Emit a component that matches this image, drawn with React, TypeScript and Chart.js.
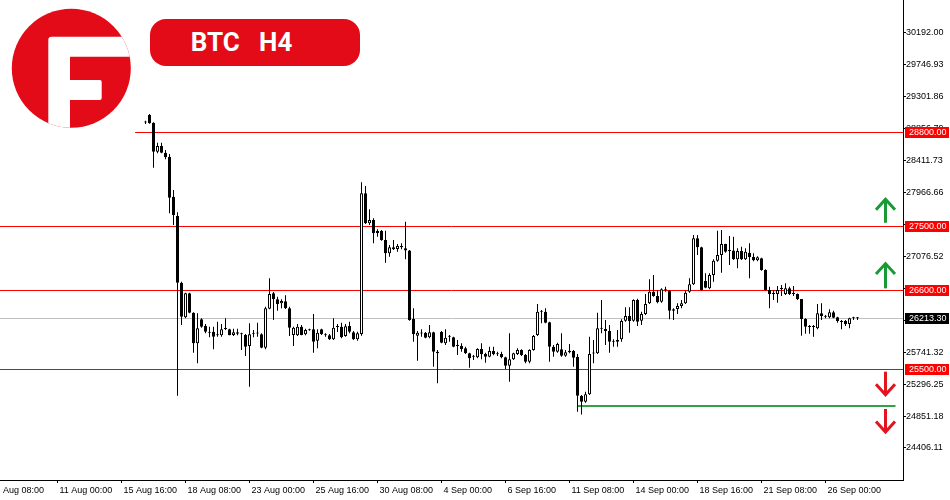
import React, { useEffect, useRef } from 'react';
import { Chart, registerables } from 'chart.js';

Chart.register(...registerables);

// ---- data (BTC H4 candles, first candle = bar 22 after 11 Aug 00:00, weekends excluded) ----
const FIRST_BAR = 22;

const OPEN = [
  28940, 29040, 28933, 28530, 28609, 28516, 28460, 27903, 27635, 26707,
  26225, 26559, 26289, 25863, 26197, 26104, 26025, 26025, 25975, 25975,
  26062, 26058, 25978, 26016, 26002, 25979, 25826, 25997, 26002, 25988,
  25802, 26345, 26559, 26475, 26420, 26448, 26350, 25979, 25975, 26094,
  25988, 26048, 26058, 25899, 26058, 25975, 25975, 25919, 26090, 26094,
  25965, 26104, 26016, 25919, 25993, 27951, 27533, 27579, 27426, 27426,
  27301, 27116, 27199, 27176, 27199, 27185, 27153, 26201, 25969, 26000,
  26011, 25947, 26016, 25746, 26020, 25863, 25955, 25947, 25826, 25826,
  25794, 25724, 25677, 25668, 25784, 25714, 25677, 25756, 25714, 25714,
  25668, 25552, 25640, 25714, 25770, 25700, 25607, 25770, 25979, 26303,
  26303, 26155, 25816, 25746, 25779, 25690, 25760, 25756, 25677, 25134,
  25050, 25153, 25720, 25724, 26072, 26062, 26034, 25886, 25886, 25919,
  26178, 26243, 26178, 26466, 26178, 26271, 26419, 26581, 26521, 26443,
  26614, 26595, 26336, 26340, 26382, 26420, 26581, 26684, 27324, 27199,
  26730, 26628, 26814, 27013, 27092, 27245, 27148, 27153, 27032, 27148,
  27032, 27125, 27064, 27018, 27046, 26883, 26605, 26549, 26549, 26619,
  26549, 26628, 26549, 26549, 26480, 26201, 26094, 26090, 26072, 26280,
  26234, 26225, 26294, 26225, 26164, 26173, 26132, 26211, 26214,
];
const HIGH = [
  28960, 29054, 28940, 28655, 28655, 28553, 28498, 27997, 27686, 26720,
  26568, 26568, 26295, 26281, 26211, 26132, 26094, 26094, 26164, 26132,
  26211, 26066, 26066, 26066, 26011, 25993, 26141, 26048, 26150, 26002,
  26373, 26768, 26577, 26512, 26475, 26531, 26373, 26094, 26132, 26118,
  26066, 26066, 26271, 26058, 26066, 26002, 25993, 26211, 26132, 26150,
  26132, 26164, 26034, 26025, 28104, 28052, 27728, 27602, 27449, 27440,
  27431, 27231, 27301, 27245, 27255, 27556, 27162, 26350, 26034, 26058,
  26020, 26118, 26025, 25770, 26034, 26058, 25979, 25955, 25909, 25863,
  25816, 25732, 25700, 25794, 25863, 25732, 25816, 25816, 25746, 25746,
  25677, 26002, 25732, 25794, 25779, 25714, 25779, 25979, 26410, 26326,
  26350, 26164, 25840, 25872, 26002, 25770, 25853, 25770, 25714, 25144,
  25190, 25955, 25909, 26289, 26466, 26187, 26118, 25919, 26048, 26197,
  26364, 26364, 26475, 26484, 26303, 26549, 26754, 26814, 26605, 26628,
  26651, 26605, 26350, 26420, 26466, 26595, 26768, 27370, 27370, 27208,
  26837, 26837, 27032, 27431, 27440, 27250, 27356, 27347, 27185, 27208,
  27185, 27255, 27116, 27074, 27055, 26893, 26651, 26605, 26660, 26674,
  26698, 26651, 26660, 26558, 26480, 26211, 26118, 26118, 26410, 26420,
  26257, 26336, 26317, 26234, 26187, 26187, 26220, 26234, 26229,
];
const LOW = [
  28915, 28920, 28307, 28507, 28507, 28424, 27672, 27510, 25134, 26118,
  26211, 26280, 25732, 25585, 26080, 26002, 25947, 25780, 25955, 25955,
  26048, 25975, 25965, 25975, 25770, 25687, 25259, 25947, 25955, 25794,
  25780, 26336, 26187, 26317, 26350, 26341, 25965, 25826, 25965, 25975,
  25975, 26039, 25732, 25794, 25979, 25955, 25909, 25909, 26020, 25933,
  25955, 26002, 25909, 25899, 25969, 27524, 27510, 27255, 27347, 27291,
  26985, 27069, 27162, 27139, 27171, 27032, 26178, 25886, 25621, 25955,
  25933, 25933, 25537, 25306, 25863, 25840, 25886, 25807, 25700, 25746,
  25714, 25524, 25631, 25654, 25640, 25593, 25668, 25696, 25687, 25654,
  25505, 25329, 25631, 25700, 25687, 25584, 25584, 25760, 25965, 26141,
  26141, 25607, 25677, 25732, 25677, 25677, 25724, 25537, 24911, 24874,
  25036, 25144, 25584, 25714, 26002, 25840, 25732, 25816, 25816, 25886,
  26164, 26011, 26164, 26104, 26118, 26257, 26410, 26512, 26420, 26429,
  26581, 26197, 26187, 26271, 26350, 26410, 26568, 26674, 27092, 26595,
  26628, 26614, 26720, 26999, 26846, 27125, 26953, 27022, 26907, 27022,
  27022, 26767, 27004, 27004, 26874, 26595, 26350, 26466, 26429, 26521,
  26535, 26535, 26521, 26466, 25969, 25997, 25997, 25955, 26058, 26187,
  26211, 26211, 26211, 26150, 26058, 26104, 26072, 26187, 26187,
];
const CLOSE = [
  28935, 28925, 28530, 28609, 28516, 28452, 27889, 27649, 26707, 26233,
  26559, 26289, 25863, 26072, 26094, 26025, 26011, 25955, 25980, 26058,
  26066, 25975, 26016, 25997, 25988, 25816, 25988, 26002, 26000, 25802,
  26350, 26549, 26475, 26410, 26452, 26350, 26080, 26080, 26094, 25979,
  26048, 26045, 25886, 26011, 25993, 25978, 25919, 26080, 26094, 25947,
  26100, 26025, 25919, 26002, 27951, 27533, 27579, 27394, 27394, 27301,
  27116, 27199, 27171, 27217, 27217, 27153, 26187, 25988, 26011, 26004,
  25941, 26016, 25746, 25723, 25872, 25942, 25958, 25816, 25830, 25784,
  25724, 25654, 25680, 25784, 25710, 25677, 25756, 25710, 25712, 25668,
  25552, 25640, 25724, 25770, 25700, 25607, 25770, 25965, 26303, 26306,
  26150, 25816, 25746, 25853, 25690, 25737, 25737, 25663, 25134, 25050,
  25153, 25714, 25724, 26072, 26066, 26034, 25886, 25890, 25909, 26173,
  26243, 26173, 26466, 26164, 26271, 26410, 26581, 26521, 26433, 26614,
  26600, 26317, 26317, 26382, 26420, 26568, 26684, 27324, 27199, 26605,
  26637, 26814, 27013, 27092, 27245, 27139, 27153, 27032, 27148, 27032,
  27139, 27064, 27018, 27060, 26883, 26605, 26549, 26552, 26605, 26622,
  26628, 26549, 26552, 26480, 26201, 26094, 26090, 26094, 26280, 26243,
  26238, 26294, 26220, 26173, 26160, 26127, 26211, 26214, 26213.3,
];

const Y_TICKS = [
  24406.11, 24851.18, 25296.25, 25741.32, 26186.38, 26631.45, 27076.52,
  27521.59, 27966.66, 28411.73, 28856.79, 29301.86, 29746.93, 30192.0,
];
const X_TICK_BARS = [-16, 0, 16, 32, 48, 64, 80, 96, 112, 128, 144, 160, 176, 192];
const X_TICK_LABELS = [
  '8 Aug 08:00', '11 Aug 00:00', '15 Aug 16:00', '18 Aug 08:00', '23 Aug 00:00',
  '25 Aug 16:00', '30 Aug 08:00', '4 Sep 00:00', '6 Sep 16:00', '11 Sep 08:00',
  '14 Sep 00:00', '18 Sep 16:00', '21 Sep 08:00', '26 Sep 00:00',
];

const X_MIN = -14.375;
const X_MAX = 211.375;
const Y_MIN = 23960.76;
const Y_MAX = 30640.9;

const RED_LEVELS = [28800, 27500, 26600, 25500];
const RED_LEVEL_FROM_BAR = [19.4, X_MIN, X_MIN, X_MIN];
const CURRENT_PRICE = 26213.3;
const GREEN_LEVEL = 24995;
const GREEN_FROM_BAR = 130;
const GREEN_TO_BAR = 209.5;
const ARROW_BAR = 207;
const UP_ARROW_TIPS = [27895, 27000];
const UP_ARROW_TAILS = [27541, 26628];
const DOWN_ARROW_TIPS = [25120, 24601];
const DOWN_ARROW_TAILS = [25468, 24949];

const RED = '#ff0000';
const BRAND_RED = '#e30b17';
const GREEN_LINE = '#34a04a';
const GREEN_ARROW = '#1a9a35';
const RED_ARROW = '#e3141e';
const FONT = '9px "Liberation Sans", Arial, sans-serif';

const levelsPlugin = {
  id: 'levels',
  beforeDatasetsDraw(chart: any) {
    const { ctx, chartArea } = chart;
    const xs = chart.scales.x;
    const ys = chart.scales.y;
    const { left, right, top, bottom } = chartArea;
    ctx.save();
    ctx.beginPath();
    ctx.rect(left, top, right - left, bottom - top);
    ctx.clip();
    ctx.lineWidth = 1;
    // current price line
    const yc = Math.round(ys.getPixelForValue(CURRENT_PRICE)) + 0.5;
    ctx.strokeStyle = '#c0c0c0';
    ctx.beginPath();
    ctx.moveTo(left, yc);
    ctx.lineTo(right, yc);
    ctx.stroke();
    // red levels
    ctx.strokeStyle = RED;
    RED_LEVELS.forEach((lv, i) => {
      const y = Math.round(ys.getPixelForValue(lv)) + 0.5;
      const x0 = Math.max(left, xs.getPixelForValue(RED_LEVEL_FROM_BAR[i]));
      ctx.beginPath();
      ctx.moveTo(x0, y);
      ctx.lineTo(right, y);
      ctx.stroke();
    });
    // green support line
    const yg = Math.round(ys.getPixelForValue(GREEN_LEVEL));
    ctx.strokeStyle = GREEN_LINE;
    ctx.lineWidth = 2;
    ctx.beginPath();
    ctx.moveTo(xs.getPixelForValue(GREEN_FROM_BAR), yg);
    ctx.lineTo(xs.getPixelForValue(GREEN_TO_BAR), yg);
    ctx.stroke();
    ctx.restore();
  },
  afterDraw(chart: any) {
    const { ctx, chartArea } = chart;
    const xs = chart.scales.x;
    const ys = chart.scales.y;
    ctx.save();
    // price boxes
    ctx.font = FONT;
    ctx.textBaseline = 'middle';
    ctx.textAlign = 'left';
    const box = (value: number, bg: string, text: string) => {
      const y = Math.round(ys.getPixelForValue(value));
      ctx.fillStyle = bg;
      ctx.fillRect(chartArea.right + 2, y - 5, 44, 11);
      ctx.fillStyle = '#ffffff';
      ctx.fillText(text, chartArea.right + 6, y + 0.5);
    };
    RED_LEVELS.forEach((lv) => box(lv, RED, lv.toFixed(2)));
    box(CURRENT_PRICE, '#000000', CURRENT_PRICE.toFixed(2));

    // arrows
    const ax = xs.getPixelForValue(ARROW_BAR);
    ctx.lineWidth = 3;
    ctx.lineCap = 'butt';
    ctx.lineJoin = 'miter';
    ctx.strokeStyle = GREEN_ARROW;
    UP_ARROW_TIPS.forEach((tip, i) => {
      const yt = ys.getPixelForValue(tip) + 2;
      const yb = ys.getPixelForValue(UP_ARROW_TAILS[i]);
      ctx.beginPath();
      ctx.moveTo(ax, yb);
      ctx.lineTo(ax, yt + 1);
      ctx.stroke();
      ctx.beginPath();
      ctx.moveTo(ax - 9.5, yt + 10.5);
      ctx.lineTo(ax, yt);
      ctx.lineTo(ax + 9.5, yt + 10.5);
      ctx.stroke();
    });
    ctx.strokeStyle = RED_ARROW;
    DOWN_ARROW_TIPS.forEach((tip, i) => {
      const yt = ys.getPixelForValue(tip) - 2;
      const yb = ys.getPixelForValue(DOWN_ARROW_TAILS[i]);
      ctx.beginPath();
      ctx.moveTo(ax, yb);
      ctx.lineTo(ax, yt - 1);
      ctx.stroke();
      ctx.beginPath();
      ctx.moveTo(ax - 9.5, yt - 10.5);
      ctx.lineTo(ax, yt);
      ctx.lineTo(ax + 9.5, yt - 10.5);
      ctx.stroke();
    });
    ctx.restore();
  },
};

export default function App() {
  const canvasRef = useRef<HTMLCanvasElement | null>(null);

  useEffect(() => {
    const canvas = canvasRef.current;
    if (!canvas) return;
    const tickFont = { family: '"Liberation Sans", Arial, sans-serif', size: 9 };
    const chart = new Chart(canvas, {
      type: 'bar',
      data: {
        datasets: [
          {
            label: 'body',
            data: OPEN.map((o, j) => ({ x: FIRST_BAR + j, y: [o, CLOSE[j]] })),
            backgroundColor: OPEN.map((o, j) => (CLOSE[j] >= o ? '#ffffff' : '#000000')),
            borderColor: '#000000',
            borderWidth: 1,
            borderSkipped: false,
            barThickness: 3,
            grouped: false,
            inflateAmount: 0,
            minBarLength: 1,
            order: 0,
          },
          {
            label: 'wick',
            data: LOW.map((l, j) => ({ x: FIRST_BAR + j, y: [l, HIGH[j]] })),
            backgroundColor: '#000000',
            borderWidth: 0,
            barThickness: 1,
            grouped: false,
            inflateAmount: 0,
            minBarLength: 1,
            order: 1,
          },
        ],
      } as any,
      options: {
        animation: false,
        responsive: false,
        maintainAspectRatio: false,
        devicePixelRatio: 1,
        events: [],
        layout: { padding: 0 },
        plugins: {
          legend: { display: false },
          tooltip: { enabled: false },
          title: { display: false },
        },
        scales: {
          x: {
            type: 'linear',
            min: X_MIN,
            max: X_MAX,
            offset: false,
            position: 'bottom',
            grid: { display: true, offset: false, drawOnChartArea: false, drawTicks: true, tickLength: 3, color: '#000000' },
            border: { display: true, color: '#000000', width: 1 },
            ticks: {
              autoSkip: false,
              maxRotation: 0,
              minRotation: 0,
              align: 'start',
              labelOffset: 2,
              padding: 2,
              color: '#000000',
              font: tickFont,
              callback: (_v: any, i: number) => X_TICK_LABELS[i],
            },
            afterBuildTicks: (scale: any) => {
              scale.ticks = X_TICK_BARS.map((v) => ({ value: v }));
            },
            afterFit: (scale: any) => {
              scale.height = 20;
              scale.paddingLeft = 0;
              scale.paddingRight = 0;
            },
          },
          y: {
            type: 'linear',
            position: 'right',
            min: Y_MIN,
            max: Y_MAX,
            grid: { display: true, drawOnChartArea: false, drawTicks: true, tickLength: 3, color: '#000000' },
            border: { display: true, color: '#000000', width: 1 },
            ticks: {
              padding: 0,
              color: '#000000',
              font: tickFont,
              callback: (v: any) => Number(v).toFixed(2),
            },
            afterBuildTicks: (scale: any) => {
              scale.ticks = Y_TICKS.map((v) => ({ value: v }));
            },
            afterFit: (scale: any) => {
              scale.width = 47;
              scale.paddingTop = 0;
              scale.paddingBottom = 0;
            },
          },
        },
      } as any,
      plugins: [levelsPlugin],
    });
    return () => chart.destroy();
  }, []);

  return (
    <div style={{ position: 'fixed', left: 0, top: 0, width: 950, height: 500, background: '#ffffff', overflow: 'hidden' }}>
      <canvas ref={canvasRef} width={950} height={500} style={{ display: 'block', width: 950, height: 500 }} />
      <svg width={140} height={140} style={{ position: 'absolute', left: 0, top: 0 }}>
        <defs>
          <clipPath id="logoClip">
            <circle cx={71.3} cy={68.3} r={59.5} />
          </clipPath>
        </defs>
        <circle cx={71.3} cy={68.3} r={59.5} fill={BRAND_RED} />
        <path
          clipPath="url(#logoClip)"
          fill="#ffffff"
          d="M48.3 132 V40 Q48.3 36.7 51.6 36.7 H140 V56.7 H70 V80 H99.7 Q101.7 80 101.7 82 V98 Q101.7 100 99.7 100 H70 V132 Z"
        />
      </svg>
      <div
        style={{
          position: 'absolute',
          left: 150,
          top: 19,
          width: 210,
          height: 47,
          borderRadius: 16,
          background: BRAND_RED,
          color: '#ffffff',
          font: '700 26px Roboto, "Liberation Sans", Arial, sans-serif',
          lineHeight: '47px',
          paddingLeft: 40.7,
          boxSizing: 'border-box',
          whiteSpace: 'pre',
        }}
      >
        {'BTC   H4'}
      </div>
    </div>
  );
}
